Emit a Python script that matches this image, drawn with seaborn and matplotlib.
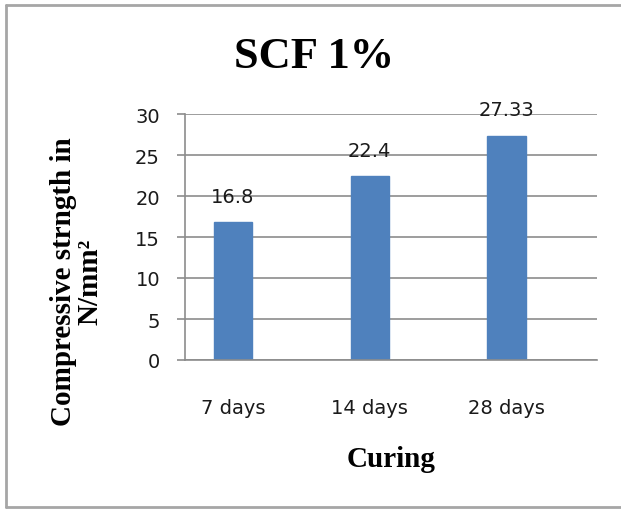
import matplotlib
matplotlib.use('Agg')
import matplotlib.pyplot as plt
from matplotlib.lines import Line2D
import seaborn as sns

curing = ['7 days', '14 days', '28 days']
strength = [16.8, 22.4, 27.33]
value_labels = ['16.8', '22.4', '27.33']
y_ticks = [0, 5, 10, 15, 20, 25, 30]

sns.set_style('white')
plt.rcParams['font.family'] = ['DejaVu Sans']
plt.rcParams['text.color'] = 'black'

fig = plt.figure(figsize=(6.21, 5.10), dpi=100)
ax = fig.add_axes([185 / 621, 1 - 361 / 510, 412 / 621, 246 / 510])

sns.barplot(x=curing, y=strength, color='#4F81BD', width=0.28, saturation=1,
            edgecolor='#4F81BD', ax=ax)

ax.set_ylim(0, 30)
ax.set_xlim(-0.35, 2.66)
ax.set_yticks(y_ticks)
ax.yaxis.grid(True, color='#8c8c8c', linewidth=1.2)
ax.set_axisbelow(True)
for side in ['top', 'right']:
    ax.spines[side].set_visible(False)
for side in ['left', 'bottom']:
    ax.spines[side].set_color('#8c8c8c')
    ax.spines[side].set_linewidth(1.2)
ax.tick_params(axis='y', which='major', left=True, length=6, width=1.2,
               color='#8c8c8c', pad=12, labelsize=14, labelcolor='#1a1a1a')
ax.tick_params(axis='x', bottom=False, pad=24, labelsize=14, labelcolor='#1a1a1a')
ax.set_xlabel('')
ax.set_ylabel('')

for i, (v, lab) in enumerate(zip(strength, value_labels)):
    ax.annotate(lab, (i, v), xytext=(0, 12), textcoords='offset points',
                ha='center', va='bottom', fontsize=14, color='#1a1a1a')

serif = 'Liberation Serif'
fig.text(0.506, 0.888, 'SCF 1%', ha='center', va='center', fontsize=32,
         fontweight='bold', family=serif, color='black')
fig.text(391 / 621, 1 - 460 / 510, 'Curing', ha='center', va='center',
         fontsize=21, fontweight='bold', family=serif, color='black')
fig.text(77 / 621, 1 - 282 / 510, 'Compressive strngth in\nN/mm²', ha='center',
         va='center', rotation=90, multialignment='center', fontsize=21,
         fontweight='bold', family=serif, linespacing=1.0, color='black')

# outer chart border
border = '#a6a6a6'
fig.add_artist(Line2D([6 / 621, 6 / 621], [1 - 6 / 510, 1 - 508 / 510],
                      transform=fig.transFigure, color=border, linewidth=2))
fig.add_artist(Line2D([6 / 621, 1], [1 - 6 / 510, 1 - 6 / 510],
                      transform=fig.transFigure, color=border, linewidth=2))
fig.add_artist(Line2D([6 / 621, 1], [1 - 508 / 510, 1 - 508 / 510],
                      transform=fig.transFigure, color=border, linewidth=2))

fig.savefig('out.png', dpi=100)
